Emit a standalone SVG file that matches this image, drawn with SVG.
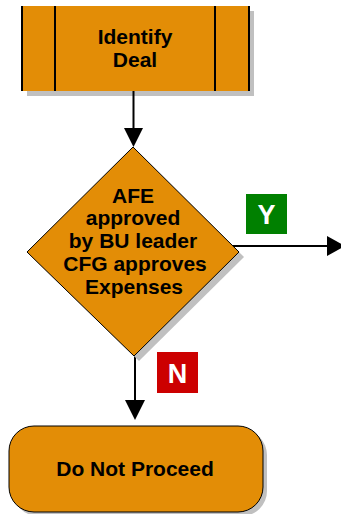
<svg xmlns="http://www.w3.org/2000/svg" width="341" height="514" viewBox="0 0 341 514">
<defs>
<style>
.fill{fill:#E38D06}
.shadow{fill:#C0C0C0}
.edge{stroke:#000;stroke-width:2;fill:none}
.t{font-family:"Liberation Sans",Arial,Helvetica,sans-serif;font-weight:bold;font-size:21px;fill:#000;text-anchor:middle}
.lbl{font-family:"Liberation Sans",Arial,Helvetica,sans-serif;font-weight:bold;font-size:27px;fill:#fff;text-anchor:middle}
</style>
</defs>
<rect width="341" height="514" fill="#fff"/>
<g id="identify-deal">
<rect class="shadow" x="27" y="11" width="227" height="85"/>
<rect class="fill" x="22" y="6" width="227" height="85"/>
<line class="edge" x1="22" y1="6" x2="22" y2="91"/>
<line class="edge" x1="55" y1="6" x2="55" y2="91"/>
<line class="edge" x1="215" y1="6" x2="215" y2="91"/>
<line class="edge" x1="249" y1="6" x2="249" y2="91"/>
<text class="t" x="135" y="44">Identify</text>
<text class="t" x="135" y="67">Deal</text>
</g>
<g id="connectors">
<line class="edge" x1="133.5" y1="91" x2="133.5" y2="129"/>
<polygon points="124,128 143,128 133.5,147" fill="#000"/>
<line class="edge" x1="230" y1="246" x2="328" y2="246"/>
<polygon points="327,236 327,256 345,246" fill="#000"/>
<line class="edge" x1="135" y1="350" x2="135" y2="401"/>
<polygon points="125,400 145,400 135,420" fill="#000"/>
</g>
<g id="afe-decision">
<polygon class="shadow" points="138,152 244,257 139,361 32,257"/>
<polygon class="fill" points="133,147 239,252 134,356 27,252" stroke="#000" stroke-width="1"/>
<text class="t" x="133" y="203">AFE</text>
<text class="t" x="133" y="225">approved</text>
<text class="t" x="133" y="248">by BU leader</text>
<text class="t" x="135" y="271">CFG approves</text>
<text class="t" x="134" y="294">Expenses</text>
</g>
<g id="label-y">
<rect x="246" y="194" width="41" height="40" fill="#008000"/>
<text class="lbl" x="266.5" y="224">Y</text>
</g>
<g id="label-n">
<rect x="157" y="352" width="41" height="41" fill="#CC0000"/>
<text class="lbl" x="177.5" y="383">N</text>
</g>
<g id="do-not-proceed">
<rect class="shadow" x="13" y="430" width="254" height="86" rx="25"/>
<rect class="fill" x="9" y="426" width="254" height="86" rx="25" stroke="#000" stroke-width="1"/>
<text class="t" x="135" y="476">Do Not Proceed</text>
</g>
</svg>
